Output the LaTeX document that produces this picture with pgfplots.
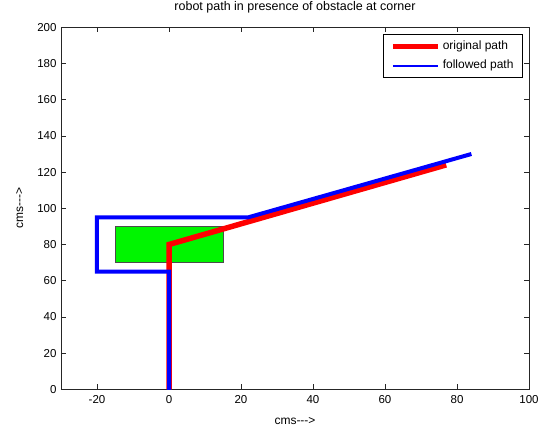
\documentclass[border=0pt]{standalone}
\usepackage{pgfplots}
\pgfplotsset{compat=1.18}
\usepackage{fontspec}
\setmainfont{Liberation Sans}
\definecolor{mred}{RGB}{255,0,0}
\definecolor{mblue}{RGB}{0,0,255}
\definecolor{mgreen}{RGB}{0,245,0}
\begin{document}
\begin{tikzpicture}
\path[use as bounding box] (-61pt,-39.7pt) rectangle (483pt,389.3pt);
\begin{axis}[
  at={(0,0)}, anchor=south west,
  scale only axis, width=468pt, height=362pt,
  xmin=-30, xmax=100, ymin=0, ymax=200,
  xtick={-20,0,...,100}, ytick={0,20,...,200},
  tick align=inside, tick pos=both,
  major tick length=5pt,
  axis line style={black!85, line width=0.8pt},
  every tick/.style={black!85, line width=0.8pt},
  /pgf/number format/assume math mode=true,
  ticklabel style={font=\fontsize{11.5}{13}\selectfont},
  xticklabel style={yshift=-3pt},
  yticklabel style={xshift=-1pt},
  title={robot path in presence of obstacle at corner},
  title style={at={(axis description cs:0.5,1.031)}, anchor=base, inner sep=0pt, font=\fontsize{12.5}{14}\selectfont},
  xlabel={cms{-}{-}{-}>},
  xlabel style={at={(axis description cs:0.5,-0.096)}, anchor=base, inner sep=0pt, font=\fontsize{12}{14}\selectfont},
  ylabel={cms{-}{-}{-}>},
  ylabel style={at={(axis description cs:-0.080,0.5)}, anchor=south, inner sep=0pt, font=\fontsize{12}{14}\selectfont},
  legend cell align=left,
  legend style={at={(rel axis cs:0.987,0.981)}, anchor=north east,
    draw=black, fill=white, line width=0.8pt,
    font=\fontsize{12}{14}\selectfont,
    inner xsep=7pt, inner ysep=4pt, row sep=4pt,
    nodes={inner sep=2pt, text height=8.5pt, text depth=3pt}},
]
% obstacle
\addplot[fill=mgreen, draw=black!70, line width=0.8pt, forget plot]
  coordinates {(-15,70) (15,70) (15,90) (-15,90)} -- cycle;
% original path
\addplot[mred, line width=5.5pt, line join=miter, forget plot]
  coordinates {(0,0) (0,80) (77,124)};
% followed path
\addplot[mblue, line width=4pt, line join=miter, forget plot]
  coordinates {(0,-2) (0,65) (-20,65) (-20,95) (22,95) (84,130)};
\addlegendimage{legend image code/.code={\draw[mred, line width=5pt] (0cm,0cm) -- (1.6cm,0cm);}}
\addlegendentry{original path}
\addlegendimage{legend image code/.code={\draw[mblue, line width=1.4pt] (0cm,0cm) -- (1.6cm,0cm);}}
\addlegendentry{followed path}
\end{axis}
\end{tikzpicture}
\end{document}
